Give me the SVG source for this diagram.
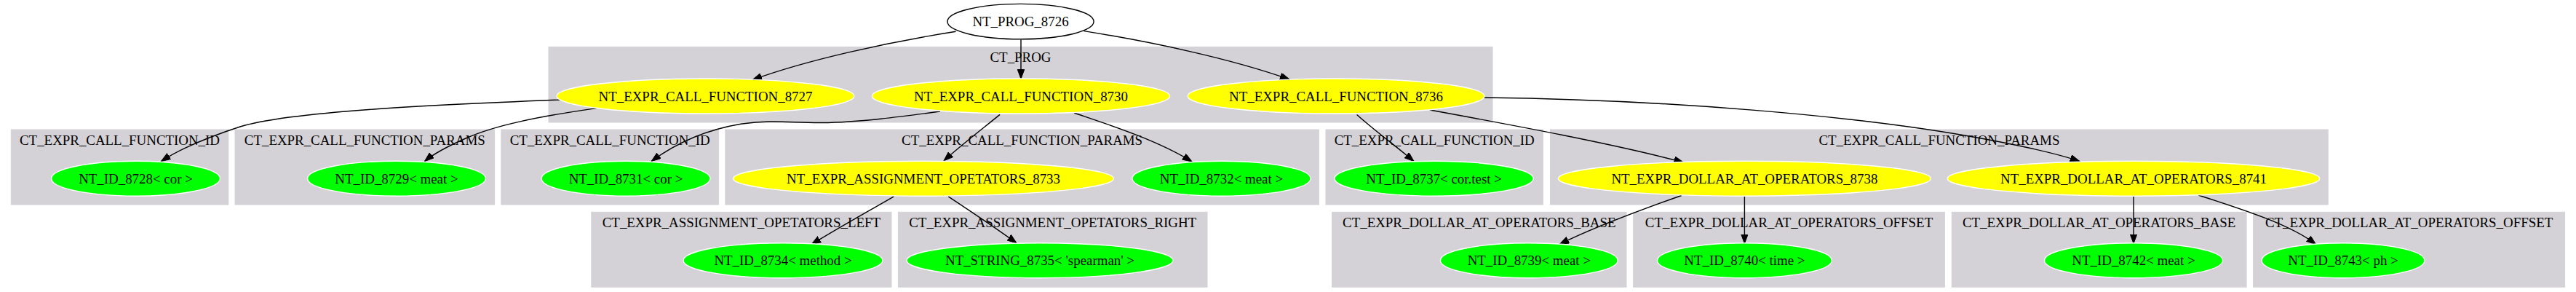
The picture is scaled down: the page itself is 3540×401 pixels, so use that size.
<svg xmlns="http://www.w3.org/2000/svg" width="3540" height="401" viewBox="0 0 3540 401">
<style>
.cl{fill:#d4d2d6;stroke:#d4d2d6;stroke-width:1}
.cl-t{font-family:"Liberation Serif","Times New Roman",serif;font-size:18.9px;fill:#000;text-anchor:middle}
.nt{font-family:"Liberation Serif","Times New Roman",serif;font-size:18.9px;fill:#000;text-anchor:middle}
.y{fill:#ffff00;stroke:#ffffff;stroke-width:1.4}
.g{fill:#00ff00;stroke:#ffffff;stroke-width:1.4}
.w{fill:#ffffff;stroke:#000000;stroke-width:1.4}
.e{fill:none;stroke:#000;stroke-width:1.4;marker-end:url(#ah)}
</style>
<defs>
<marker id="ah" markerUnits="userSpaceOnUse" markerWidth="14" markerHeight="10" refX="13" refY="4.75" orient="auto">
<path d="M0,0 L13,4.75 L0,9.5 z" fill="#000" stroke="#000" stroke-width="1"/>
</marker>
</defs>
<rect width="3540" height="401" fill="#ffffff"/>
<g id="clusters">
<g id="cl_prog"><rect class="cl" x="754" y="64.4" width="1297" height="103.6"/><text class="cl-t" x="1402.5" y="85.4">CT_PROG</text></g>
<g id="cl_r2_1"><rect class="cl" x="15.3" y="178" width="298.5" height="103"/><text class="cl-t" x="164.5" y="199">CT_EXPR_CALL_FUNCTION_ID</text></g>
<g id="cl_r2_2"><rect class="cl" x="323" y="178" width="356.6" height="103"/><text class="cl-t" x="501.3" y="199">CT_EXPR_CALL_FUNCTION_PARAMS</text></g>
<g id="cl_r2_3"><rect class="cl" x="688.8" y="178" width="298.8" height="103"/><text class="cl-t" x="838.2" y="199">CT_EXPR_CALL_FUNCTION_ID</text></g>
<g id="cl_r2_4"><rect class="cl" x="996.8" y="178" width="815.6" height="103"/><text class="cl-t" x="1404.6" y="199">CT_EXPR_CALL_FUNCTION_PARAMS</text></g>
<g id="cl_r2_5"><rect class="cl" x="1822" y="178" width="298.3" height="103"/><text class="cl-t" x="1971.2" y="199">CT_EXPR_CALL_FUNCTION_ID</text></g>
<g id="cl_r2_6"><rect class="cl" x="2130.5" y="178" width="1068.7" height="103"/><text class="cl-t" x="2664.9" y="199">CT_EXPR_CALL_FUNCTION_PARAMS</text></g>
<g id="cl_r3_1"><rect class="cl" x="812.8" y="291.3" width="412.2" height="102.9"/><text class="cl-t" x="1018.9" y="312.3">CT_EXPR_ASSIGNMENT_OPETATORS_LEFT</text></g>
<g id="cl_r3_2"><rect class="cl" x="1234.4" y="291.3" width="424.6" height="102.9"/><text class="cl-t" x="1446.7" y="312.3">CT_EXPR_ASSIGNMENT_OPETATORS_RIGHT</text></g>
<g id="cl_r3_3"><rect class="cl" x="1830.5" y="291.3" width="404.5" height="102.9"/><text class="cl-t" x="2032.8" y="312.3">CT_EXPR_DOLLAR_AT_OPERATORS_BASE</text></g>
<g id="cl_r3_4"><rect class="cl" x="2244.6" y="291.3" width="427.8" height="102.9"/><text class="cl-t" x="2458.5" y="312.3">CT_EXPR_DOLLAR_AT_OPERATORS_OFFSET</text></g>
<g id="cl_r3_5"><rect class="cl" x="2682.3" y="291.3" width="404.8" height="102.9"/><text class="cl-t" x="2884.7" y="312.3">CT_EXPR_DOLLAR_AT_OPERATORS_BASE</text></g>
<g id="cl_r3_6"><rect class="cl" x="3096.6" y="291.3" width="428" height="102.9"/><text class="cl-t" x="3310.6" y="312.3">CT_EXPR_DOLLAR_AT_OPERATORS_OFFSET</text></g>
</g>
<g id="connectors">
<path class="e" d="M1313.5,43.3 C1220,58 1110,82 1034,109.7"/>
<path class="e" d="M1403,54.5 L1403,108.3"/>
<path class="e" d="M1489.6,42.6 C1580,57 1690,80 1772,109"/>
<path class="e" d="M771,137 C620,143 400,152 330,174 C290,187 250,203 221.5,221.5"/>
<path class="e" d="M819.6,148.6 C740,160 680,172 640,190 C615,201 595,212 583.5,221.5"/>
<path class="e" d="M1292,153 C1240,160 1180,168 1130,168.5 C1090,169 1060,164 1020,170 C970,178 930,196 895.2,221.5"/>
<path class="e" d="M1374,157.4 C1350,177 1320,200 1297,220.8"/>
<path class="e" d="M1476,155 C1520,170 1590,192 1638,222"/>
<path class="e" d="M1864.6,157.4 C1890,180 1920,202 1943,221.5"/>
<path class="e" d="M1965,151 C2080,172 2220,198 2313.5,223"/>
<path class="e" d="M2040,134 C2300,137 2550,160 2700,186 C2780,200 2830,212 2857.8,221.5"/>
<path class="e" d="M1228.3,269.8 C1190,292 1150,314 1115.2,335.6"/>
<path class="e" d="M1303.2,269.8 C1335,291 1370,314 1397,333.9"/>
<path class="e" d="M2310.7,268.5 C2250,290 2190,312 2143.1,335.6"/>
<path class="e" d="M2397.4,269.8 L2397.4,334.6"/>
<path class="e" d="M2932,269.8 L2932,334.6"/>
<path class="e" d="M3021,268 C3090,290 3150,310 3182.5,335.6"/>
</g>
<g id="n8726"><ellipse class="w" cx="1402.5" cy="29.6" rx="100.6" ry="24.2"/><text class="nt" x="1402.5" y="36">NT_PROG_8726</text></g>
<g id="n8727"><ellipse class="y" cx="969.5" cy="132" rx="204.5" ry="24"/><text class="nt" x="969.5" y="138.5">NT_EXPR_CALL_FUNCTION_8727</text></g>
<g id="n8730"><ellipse class="y" cx="1403" cy="132" rx="204.7" ry="24"/><text class="nt" x="1403" y="138.5">NT_EXPR_CALL_FUNCTION_8730</text></g>
<g id="n8736"><ellipse class="y" cx="1836" cy="132" rx="204" ry="24"/><text class="nt" x="1836" y="138.5">NT_EXPR_CALL_FUNCTION_8736</text></g>
<g id="n8728"><ellipse class="g" cx="186.5" cy="245.2" rx="116" ry="24"/><text class="nt" x="186.5" y="251.6">NT_ID_8728&lt; cor &gt;</text></g>
<g id="n8729"><ellipse class="g" cx="545" cy="245.2" rx="122.5" ry="24"/><text class="nt" x="545" y="251.6">NT_ID_8729&lt; meat &gt;</text></g>
<g id="n8731"><ellipse class="g" cx="860" cy="245.2" rx="116" ry="24"/><text class="nt" x="860" y="251.6">NT_ID_8731&lt; cor &gt;</text></g>
<g id="n8733"><ellipse class="y" cx="1269" cy="245.2" rx="261.5" ry="24"/><text class="nt" x="1269" y="251.6">NT_EXPR_ASSIGNMENT_OPETATORS_8733</text></g>
<g id="n8732"><ellipse class="g" cx="1678.5" cy="245.2" rx="122.6" ry="24"/><text class="nt" x="1678.5" y="251.6">NT_ID_8732&lt; meat &gt;</text></g>
<g id="n8737"><ellipse class="g" cx="1970.6" cy="245.2" rx="136.7" ry="24"/><text class="nt" x="1970.6" y="251.6">NT_ID_8737&lt; cor.test &gt;</text></g>
<g id="n8738"><ellipse class="y" cx="2397.4" cy="245.2" rx="256" ry="24"/><text class="nt" x="2397.4" y="251.6">NT_EXPR_DOLLAR_AT_OPERATORS_8738</text></g>
<g id="n8741"><ellipse class="y" cx="2932" cy="245.2" rx="255.7" ry="24"/><text class="nt" x="2932" y="251.6">NT_EXPR_DOLLAR_AT_OPERATORS_8741</text></g>
<g id="n8734"><ellipse class="g" cx="1076" cy="357.7" rx="137" ry="24"/><text class="nt" x="1076" y="364.1">NT_ID_8734&lt; method &gt;</text></g>
<g id="n8735"><ellipse class="g" cx="1429" cy="357.7" rx="183" ry="24"/><text class="nt" x="1429" y="364.1">NT_STRING_8735&lt; 'spearman' &gt;</text></g>
<g id="n8739"><ellipse class="g" cx="2101.3" cy="357.7" rx="122" ry="24"/><text class="nt" x="2101.3" y="364.1">NT_ID_8739&lt; meat &gt;</text></g>
<g id="n8740"><ellipse class="g" cx="2397.4" cy="357.7" rx="120" ry="24"/><text class="nt" x="2397.4" y="364.1">NT_ID_8740&lt; time &gt;</text></g>
<g id="n8742"><ellipse class="g" cx="2932" cy="357.7" rx="122.6" ry="24"/><text class="nt" x="2932" y="364.1">NT_ID_8742&lt; meat &gt;</text></g>
<g id="n8743"><ellipse class="g" cx="3220" cy="357.7" rx="112" ry="24"/><text class="nt" x="3220" y="364.1">NT_ID_8743&lt; ph &gt;</text></g>
</svg>
